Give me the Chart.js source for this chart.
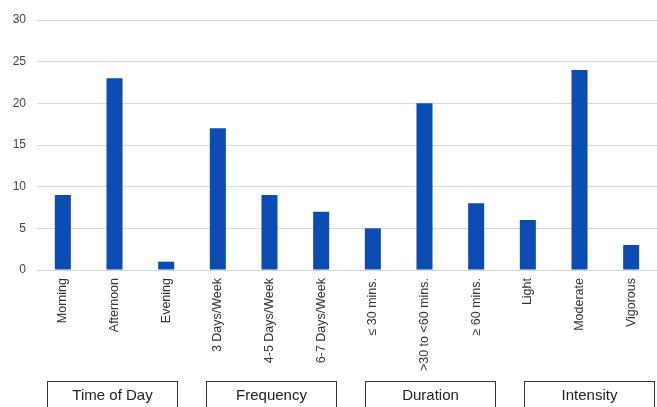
<!DOCTYPE html>
<html>
<head>
<meta charset="utf-8">
<script src="https://cdn.jsdelivr.net/npm/chart.js@4/dist/chart.umd.min.js"></script>
<style>
  html, body { margin: 0; padding: 0; background: #fff; }
  #wrap { width: 657px; height: 407px; position: relative; }
</style>
</head>
<body>
<div id="wrap"><canvas id="c" width="657" height="407"></canvas></div>
<script>
// Categories and counts
const categories = [
  'Morning', 'Afternoon', 'Evening',
  '3 Days/Week', '4-5 Days/Week', '6-7 Days/Week',
  '\u2264 30 mins.', '>30 to <60 mins.', '\u2265 60 mins.',
  'Light', 'Moderate', 'Vigorous'
];
const counts = [9, 23, 1, 17, 9, 7, 5, 20, 8, 6, 24, 3];
const yTicks = [0, 5, 10, 15, 20, 25, 30];

// Category groups shown in boxes below the axis
const groupNames = ['Time of Day', 'Frequency', 'Duration', 'Intensity'];

const groupBoxes = {
  id: 'groupBoxes',
  afterDraw(chart) {
    const ctx = chart.ctx;
    const xs = chart.scales.x;
    const step = xs.getPixelForValue(1) - xs.getPixelForValue(0);
    ctx.save();
    ctx.strokeStyle = '#333';
    ctx.lineWidth = 1;
    ctx.fillStyle = '#222';
    ctx.font = '15px "Liberation Sans", Arial, sans-serif';
    ctx.textAlign = 'center';
    ctx.textBaseline = 'middle';
    const w = Math.round(step * 2.51);
    groupNames.forEach((name, i) => {
      const left = Math.round(xs.left + step * (0.19 + 3.08 * i)) + 0.5;
      ctx.strokeRect(left, 381.5, w, 40);
      ctx.fillText(name, left + w / 2, 396);
    });
    ctx.restore();
  }
};

new Chart(document.getElementById('c'), {
  type: 'bar',
  data: {
    labels: categories,
    datasets: [{
      data: counts,
      backgroundColor: '#0a4cb2',
      borderWidth: 0,
      barPercentage: 0.31,
      categoryPercentage: 1.0
    }]
  },
  options: {
    responsive: false,
    animation: false,
    layout: { padding: { top: 20, right: 0, left: 0, bottom: 0 } },
    plugins: { legend: { display: false }, tooltip: { enabled: false } },
    scales: {
      x: {
        grid: { display: false },
        border: { display: true, color: '#d4d4d4', width: 1 },
        ticks: {
          color: '#333',
          font: { family: '"Liberation Sans", Arial, sans-serif', size: 12.5 },
          minRotation: 90, maxRotation: 90,
          padding: 0,
          autoSkip: false
        },
        afterFit(scale) { scale.height = 137; }
      },
      y: {
        min: 0, max: 30,
        afterBuildTicks(scale) { scale.ticks = yTicks.map(v => ({ value: v })); },
        grid: { color: '#d9d9d9', drawTicks: false },
        border: { display: false },
        ticks: {
          color: '#444',
          font: { family: '"Liberation Sans", Arial, sans-serif', size: 12 },
          padding: 11
        },
        afterFit(scale) { scale.width = 37; }
      }
    }
  },
  plugins: [groupBoxes]
});
</script>
</body>
</html>
